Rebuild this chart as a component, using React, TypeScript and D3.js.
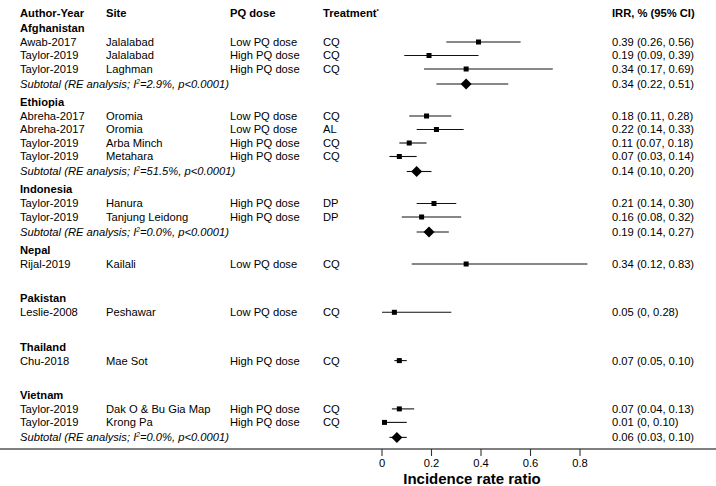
import React from "react";
import * as d3 from "d3";

const groups = ["Afghanistan", "Ethiopia", "Indonesia", "Nepal", "Pakistan", "Thailand", "Vietnam"];

const studyGroup = ["Afghanistan", "Afghanistan", "Afghanistan", "Ethiopia", "Ethiopia", "Ethiopia", "Ethiopia", "Indonesia", "Indonesia", "Nepal", "Pakistan", "Thailand", "Vietnam", "Vietnam"];
const studyAuthor = ["Awab-2017", "Taylor-2019", "Taylor-2019", "Abreha-2017", "Abreha-2017", "Taylor-2019", "Taylor-2019", "Taylor-2019", "Taylor-2019", "Rijal-2019", "Leslie-2008", "Chu-2018", "Taylor-2019", "Taylor-2019"];
const studySite = ["Jalalabad", "Jalalabad", "Laghman", "Oromia", "Oromia", "Arba Minch", "Metahara", "Hanura", "Tanjung Leidong", "Kailali", "Peshawar", "Mae Sot", "Dak O & Bu Gia Map", "Krong Pa"];
const studyDose = ["Low PQ dose", "High PQ dose", "High PQ dose", "Low PQ dose", "Low PQ dose", "High PQ dose", "High PQ dose", "High PQ dose", "High PQ dose", "Low PQ dose", "Low PQ dose", "High PQ dose", "High PQ dose", "High PQ dose"];
const studyTreatment = ["CQ", "CQ", "CQ", "CQ", "AL", "CQ", "CQ", "DP", "DP", "CQ", "CQ", "CQ", "CQ", "CQ"];
const studyIrr = [0.39, 0.19, 0.34, 0.18, 0.22, 0.11, 0.07, 0.21, 0.16, 0.34, 0.05, 0.07, 0.07, 0.01];
const studyLo = [0.26, 0.09, 0.17, 0.11, 0.14, 0.07, 0.03, 0.14, 0.08, 0.12, 0, 0.05, 0.04, 0];
const studyHi = [0.56, 0.39, 0.69, 0.28, 0.33, 0.18, 0.14, 0.30, 0.32, 0.83, 0.28, 0.10, 0.13, 0.10];
const studyLabel = ["0.39 (0.26, 0.56)", "0.19 (0.09, 0.39)", "0.34 (0.17, 0.69)", "0.18 (0.11, 0.28)", "0.22 (0.14, 0.33)", "0.11 (0.07, 0.18)", "0.07 (0.03, 0.14)", "0.21 (0.14, 0.30)", "0.16 (0.08, 0.32)", "0.34 (0.12, 0.83)", "0.05 (0, 0.28)", "0.07 (0.05, 0.10)", "0.07 (0.04, 0.13)", "0.01 (0, 0.10)"];

const subGroup = ["Afghanistan", "Ethiopia", "Indonesia", "Vietnam"];
const subI2 = ["2.9%", "51.5%", "0.0%", "0.0%"];
const subIrr = [0.34, 0.14, 0.19, 0.06];
const subLo = [0.22, 0.10, 0.14, 0.03];
const subHi = [0.51, 0.20, 0.27, 0.10];
const subLabel = ["0.34 (0.22, 0.51)", "0.14 (0.10, 0.20)", "0.19 (0.14, 0.27)", "0.06 (0.03, 0.10)"];

const xTicks = [0, 0.2, 0.4, 0.6, 0.8];

const W = 716;
const H = 486;
const FONT = "'Liberation Sans', Arial, Helvetica, sans-serif";

type Row =
  | { kind: "group"; y: number; name: string }
  | { kind: "study"; y: number; i: number }
  | { kind: "sub"; y: number; i: number };

function buildRows(): Row[] {
  const rows: Row[] = [];
  let y = 13;
  let last: "header" | "study" | "sub" = "header";
  groups.forEach((g) => {
    if (last === "header") y += 15;
    else if (last === "sub") y += 18;
    else y += 34.3;
    rows.push({ kind: "group", y, name: g });
    let first = true;
    studyGroup.forEach((sg, i) => {
      if (sg !== g) return;
      y += first ? 14 : 13.5;
      first = false;
      rows.push({ kind: "study", y, i });
      last = "study";
    });
    const si = subGroup.indexOf(g);
    if (si >= 0) {
      y += 15;
      rows.push({ kind: "sub", y, i: si });
      last = "sub";
    }
  });
  return rows;
}

export default function App() {
  const x = d3.scaleLinear().domain([0, 0.8]).range([382, 580]);
  const rows = buildRows();
  const axisY = 449;
  const colAuthor = 20;
  const colSite = 106;
  const colDose = 230;
  const colTreat = 323;
  const colIrr = 612;
  const fs = 11.2;

  return (
    <svg width={W} height={H} style={{ position: "absolute", left: 0, top: 0, background: "#fff" }} fontFamily={FONT}>
      <rect width={W} height={H} fill="#fff" />
      {/* header */}
      <g fontWeight="bold" fontSize={fs} fill="#000">
        <text x={colAuthor} y={13} dy="0.35em">Author-Year</text>
        <text x={colSite} y={13} dy="0.35em">Site</text>
        <text x={colDose} y={13} dy="0.35em">PQ dose</text>
        <text x={colTreat} y={13} dy="0.35em">
          Treatment<tspan fontSize={6} dy="-4">*</tspan>
        </text>
        <text x={colIrr} y={13} dy="0.35em">IRR, % (95% CI)</text>
      </g>
      {rows.map((r, k) => {
        if (r.kind === "group") {
          return (
            <text key={k} x={colAuthor} y={r.y} dy="0.35em" fontWeight="bold" fontSize={fs}>
              {r.name}
            </text>
          );
        }
        if (r.kind === "study") {
          const i = r.i;
          const cx = x(studyIrr[i]);
          return (
            <g key={k} fontSize={fs}>
              <text x={colAuthor} y={r.y} dy="0.35em">{studyAuthor[i]}</text>
              <text x={colSite} y={r.y} dy="0.35em">{studySite[i]}</text>
              <text x={colDose} y={r.y} dy="0.35em">{studyDose[i]}</text>
              <text x={colTreat} y={r.y} dy="0.35em">{studyTreatment[i]}</text>
              <line x1={x(studyLo[i])} x2={x(studyHi[i])} y1={r.y} y2={r.y} stroke="#111" strokeWidth={1.1} />
              <rect x={cx - 2.5} y={r.y - 2.5} width={5} height={5} fill="#000" />
              <text x={colIrr} y={r.y} dy="0.35em">{studyLabel[i]}</text>
            </g>
          );
        }
        const i = r.i;
        const cx = x(subIrr[i]);
        const dw = 5.5;
        const dh = 5.5;
        return (
          <g key={k} fontSize={fs}>
            <text x={colAuthor} y={r.y} dy="0.35em" fontStyle="italic">
              Subtotal (RE analysis; I<tspan fontSize={6.5} dy="-4">2</tspan>
              <tspan dy="4">={subI2[i]}, p&lt;0.0001)</tspan>
            </text>
            <line x1={x(subLo[i])} x2={x(subHi[i])} y1={r.y} y2={r.y} stroke="#111" strokeWidth={1.1} />
            <path d={`M${cx - dw},${r.y} L${cx},${r.y - dh} L${cx + dw},${r.y} L${cx},${r.y + dh} Z`} fill="#000" />
            <text x={colIrr} y={r.y} dy="0.35em">{subLabel[i]}</text>
          </g>
        );
      })}
      {/* axis */}
      <line x1={0} x2={W} y1={axisY} y2={axisY} stroke="#555" strokeWidth={1.6} />
      {xTicks.map((t) => (
        <g key={t}>
          <line x1={x(t)} x2={x(t)} y1={axisY} y2={axisY + 7} stroke="#333" strokeWidth={1.1} />
          <text x={x(t)} y={467} textAnchor="middle" fontSize={fs}>
            {d3.format("~g")(t)}
          </text>
        </g>
      ))}
      <text x={472} y={484} textAnchor="middle" fontWeight="bold" fontSize={15}>
        Incidence rate ratio
      </text>
    </svg>
  );
}
